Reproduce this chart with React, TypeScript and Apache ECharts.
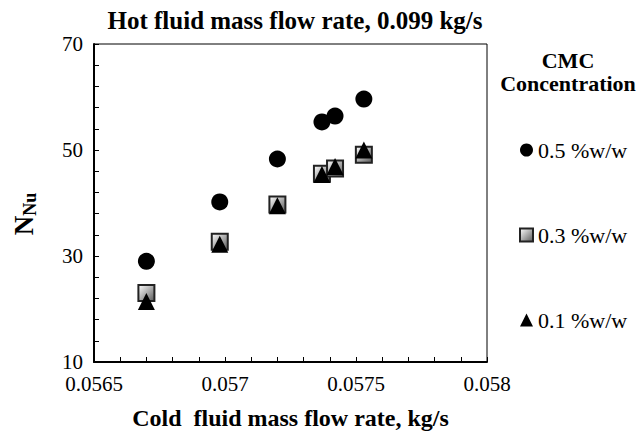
import React, { useEffect, useRef } from "react";
import * as echarts from "echarts";

const COLD_FLOW = [0.0567, 0.05698, 0.0572, 0.05737, 0.05742, 0.05753];
const NU_05 = [29.0, 40.2, 48.3, 55.3, 56.4, 59.6];
const NU_03 = [23.0, 32.7, 39.7, 45.5, 46.5, 49.1];
const NU_01 = [21.4, 32.2, 39.5, 45.4, 46.9, 50.0];
const SERIES_NAMES = ["0.5 %w/w", "0.3 %w/w", "0.1 %w/w"];
const X_TICKS = ["0.0565", "0.057", "0.0575", "0.058"];
const Y_TICKS = ["10", "30", "50", "70"];

const FONT = '"Liberation Serif", "Times New Roman", serif';

const pairs = (ys: number[]) => COLD_FLOW.map((x, i) => [x, ys[i]]);

export default function App() {
  const ref = useRef<HTMLDivElement>(null);
  useEffect(() => {
    if (!ref.current) return;
    const chart = echarts.init(ref.current, undefined, { renderer: "svg" });
    const squareFill = {
      type: "linear",
      x: 0,
      y: 0,
      x2: 1,
      y2: 1,
      colorStops: [
        { offset: 0, color: "#ffffff" },
        { offset: 1, color: "#5a5a5a" },
      ],
    };
    chart.setOption({
      animation: false,
      backgroundColor: "#fff",
      textStyle: { fontFamily: FONT, color: "#000" },
      title: [
        {
          text: "Hot fluid mass flow rate, 0.099 kg/s",
          left: 290,
          top: 3,
          textAlign: "center",
          textStyle: { fontFamily: FONT, fontSize: 25, fontWeight: "bold", color: "#000" },
        },
        {
          text: "CMC\nConcentration",
          left: 563,
          top: 44,
          textAlign: "center",
          textStyle: {
            fontFamily: FONT,
            fontSize: 22,
            fontWeight: "bold",
            color: "#000",
            lineHeight: 23,
            align: "center",
          },
        },
      ],
      legend: {
        orient: "vertical",
        left: 514,
        top: 133,
        itemWidth: 13,
        itemHeight: 13,
        itemGap: 61,
        data: SERIES_NAMES,
        textStyle: { fontFamily: FONT, fontSize: 22, color: "#000", lineHeight: 24 },
      },
      grid: {
        left: 94,
        right: 155,
        top: 44,
        bottom: 70,
        show: true,
        borderColor: "#000",
        borderWidth: 1,
        backgroundColor: "transparent",
      },
      xAxis: {
        type: "value",
        min: 0.0565,
        max: 0.058,
        interval: 0.0005,
        name: "Cold  fluid mass flow rate, kg/s",
        nameLocation: "middle",
        nameGap: 44,
        nameTextStyle: { fontFamily: FONT, fontSize: 24, fontWeight: "bold", color: "#000" },
        axisLine: { show: true, onZero: false, lineStyle: { color: "#000", width: 2 } },
        axisTick: { show: true, inside: true, length: 5, lineStyle: { color: "#000" } },
        minorTick: { show: true, splitNumber: 5, length: 5, lineStyle: { color: "#000" } },
        splitLine: { show: false },
        axisLabel: {
          margin: 14,
          fontFamily: FONT,
          fontSize: 21,
          lineHeight: 16,
          color: "#000",
          formatter: (_v: number, i: number) => X_TICKS[i] ?? "",
        },
      },
      yAxis: {
        type: "value",
        min: 10,
        max: 70,
        interval: 20,
        name: "{a|N}{b|Nu}",
        nameLocation: "middle",
        nameRotate: 90,
        nameGap: 55,
        nameTextStyle: {
          fontFamily: FONT,
          color: "#000",
          rich: {
            a: { fontFamily: FONT, fontSize: 27, fontWeight: "bold", lineHeight: 30, color: "#000" },
            b: {
              fontFamily: FONT,
              fontSize: 18,
              fontWeight: "bold",
              lineHeight: 30,
              padding: [12, 22, 0, 0],
              color: "#000",
            },
          },
        },
        axisLine: { show: true, onZero: false, lineStyle: { color: "#000", width: 2 } },
        axisTick: { show: true, inside: true, length: 5, lineStyle: { color: "#000" } },
        minorTick: { show: true, splitNumber: 5, length: 5, lineStyle: { color: "#000" } },
        splitLine: { show: false },
        axisLabel: {
          margin: 11,
          fontFamily: FONT,
          fontSize: 21,
          lineHeight: 16,
          color: "#000",
          formatter: (_v: number, i: number) => Y_TICKS[i] ?? "",
        },
      },
      series: [
        {
          name: SERIES_NAMES[0],
          type: "scatter",
          symbol: "circle",
          symbolSize: 17,
          data: pairs(NU_05),
          itemStyle: { color: "#000", opacity: 1 },
          z: 3,
        },
        {
          name: SERIES_NAMES[1],
          type: "scatter",
          symbol: "rect",
          symbolSize: 16,
          data: pairs(NU_03),
          itemStyle: { color: squareFill, borderColor: "#222", borderWidth: 2, opacity: 1 },
          z: 3,
        },
        {
          name: SERIES_NAMES[2],
          type: "scatter",
          symbol: "triangle",
          symbolSize: 17,
          data: pairs(NU_01),
          itemStyle: { color: "#000", opacity: 1 },
          z: 4,
        },
      ],
    });
    return () => chart.dispose();
  }, []);
  return (
    <div
      ref={ref}
      style={{ position: "fixed", left: 0, top: 0, width: 642, height: 435 }}
    />
  );
}
